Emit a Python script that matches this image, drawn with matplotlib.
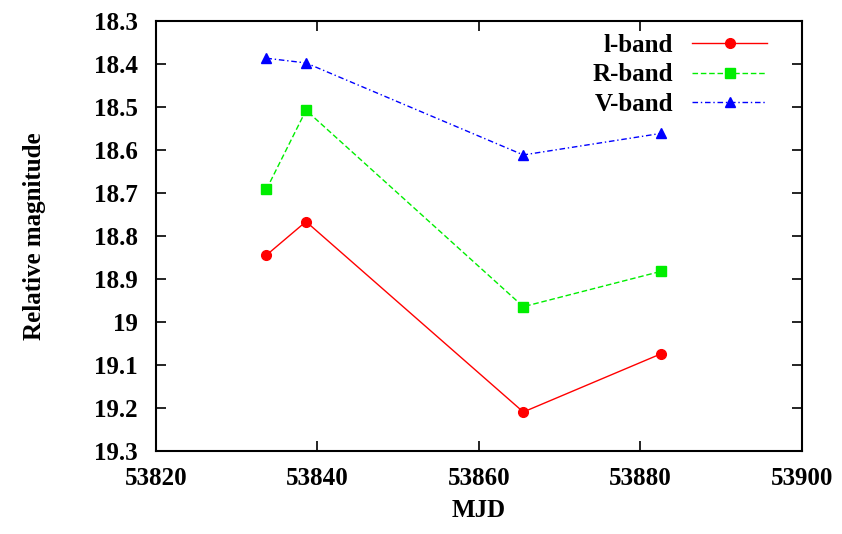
import matplotlib
matplotlib.use("Agg")
import matplotlib.pyplot as plt

plt.rcParams['font.family'] = ['Liberation Serif', 'DejaVu Serif']
plt.rcParams['font.weight'] = 'bold'
plt.rcParams['axes.labelweight'] = 'bold'

mjd = [53833.7, 53838.6, 53865.5, 53882.5]
i_band = [18.845, 18.767, 19.210, 19.075]
r_band = [18.692, 18.508, 18.965, 18.883]
v_band = [18.387, 18.398, 18.612, 18.562]

yticks = [18.3, 18.4, 18.5, 18.6, 18.7, 18.8, 18.9, 19.0, 19.1, 19.2, 19.3]
ytick_labels = ['18.3', '18.4', '18.5', '18.6', '18.7', '18.8', '18.9', '19', '19.1', '19.2', '19.3']
xticks = [53820, 53840, 53860, 53880, 53900]

fs = 18

fig = plt.figure(figsize=(8.42, 5.34), dpi=100)
ax = fig.add_axes([0.185, 0.156, 0.7675, 0.805])

ax.plot(mjd, i_band, color='red', lw=1, ls='-', marker='o', ms=7, label='l-band')
ax.plot(mjd, r_band, color='#00ee00', lw=1, ls=(0, (4, 2)), marker='s', ms=7, label='R-band')
ax.plot(mjd, v_band, color='blue', lw=1, ls=(0, (4, 2, 1, 2)), marker='^', ms=7, label='V-band')

ax.set_xlim(53820, 53900)
ax.set_ylim(19.3, 18.3)
ax.set_xticks(xticks)
ax.set_xticklabels([str(t) for t in xticks])
ax.set_yticks(yticks)
ax.set_yticklabels(ytick_labels)
ax.tick_params(direction='in', length=7, width=1.2, top=True, right=True,
               labelsize=fs)
ax.tick_params(axis='y', pad=13)
ax.tick_params(axis='x', pad=12)
for s in ax.spines.values():
    s.set_linewidth(1.5)

ax.set_xlabel('MJD', fontsize=fs, labelpad=6)
ax.set_ylabel('Relative magnitude', fontsize=fs, labelpad=34)

ax.legend(loc='upper right', bbox_to_anchor=(0.973, 1.01), frameon=False,
          markerfirst=False, fontsize=fs, handlelength=3.0,
          labelspacing=0.25, borderaxespad=0.3, handletextpad=0.75)

fig.savefig('out.png', dpi=100)
